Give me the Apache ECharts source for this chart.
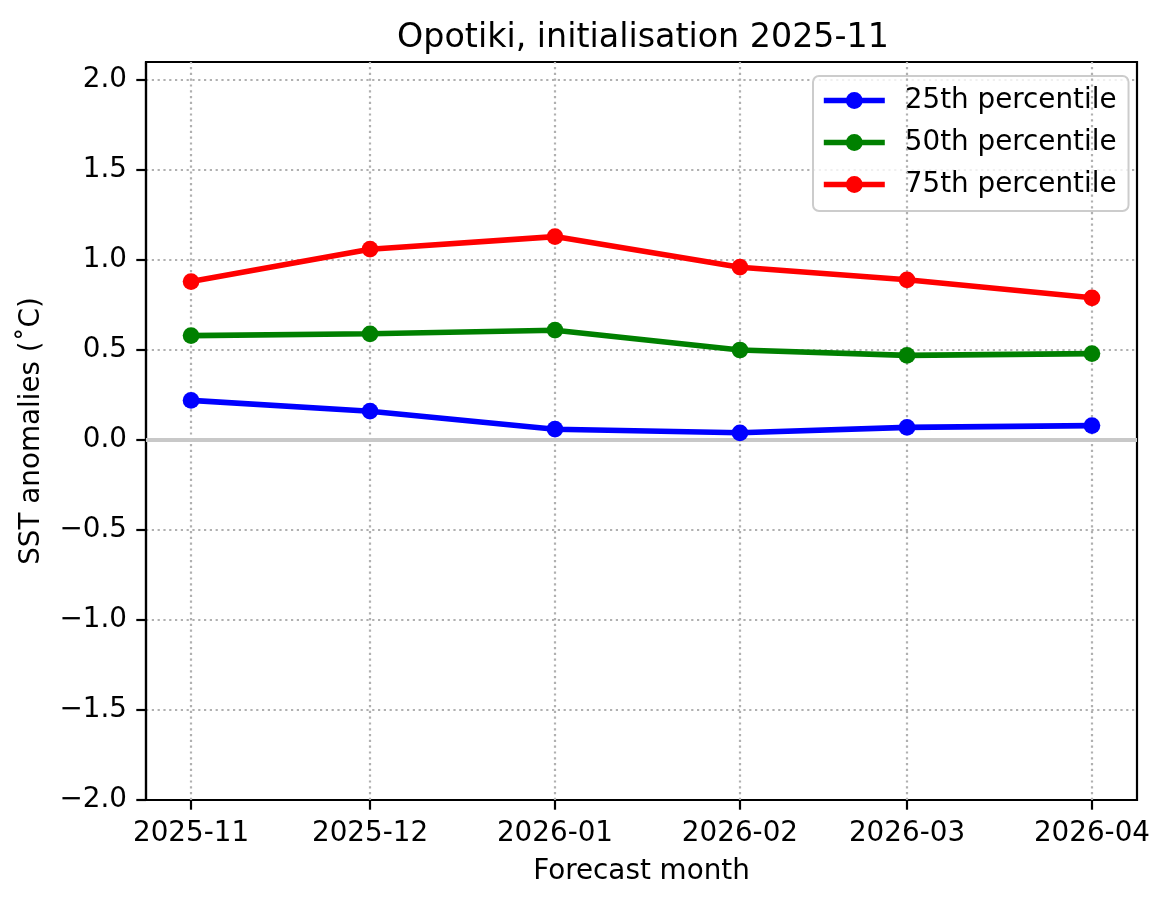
<!DOCTYPE html>
<html>
<head>
<meta charset="utf-8">
<script src="https://cdn.jsdelivr.net/npm/echarts@6/dist/echarts.min.js"></script>
<style>
html,body{margin:0;padding:0;background:#fff;}
#c{width:1171px;height:908px;}
</style>
</head>
<body>
<div id="c"></div>
<script>
// ---- data ----
const months = ['2025-11', '2025-12', '2026-01', '2026-02', '2026-03', '2026-04'];
const p25 = [0.22, 0.16, 0.06, 0.04, 0.07, 0.08];
const p50 = [0.58, 0.59, 0.61, 0.50, 0.47, 0.48];
const p75 = [0.88, 1.06, 1.13, 0.96, 0.89, 0.79];
const seriesNames = ['25th percentile', '50th percentile', '75th percentile'];
const yTicks = [-2.0, -1.5, -1.0, -0.5, 0.0, 0.5, 1.0, 1.5, 2.0];
const titleText = 'Opotiki, initialisation 2025-11';
const xName = 'Forecast month';
const yName = 'SST anomalies (˚C)';

// ---- helpers ----
function toTs(s) { const [y, m] = s.split('-').map(Number); return Date.UTC(y, m - 1, 1); }
const xs = months.map(toTs);
const span = xs[xs.length - 1] - xs[0];
const xMin = xs[0] - 0.05 * span;
const xMax = xs[xs.length - 1] + 0.05 * span;
function pair(vals) { return vals.map((v, i) => [xs[i], v]); }
function fmtX(v) { const d = new Date(v); return d.getUTCFullYear() + '-' + String(d.getUTCMonth() + 1).padStart(2, '0'); }
function fmtY(v) { return (v < 0 ? '\u2212' : '') + Math.abs(v).toFixed(1); }

const FONT = 'DejaVu Sans';
const FS = 27.8;
const LW = 5.6;
const MS = 16.7;
const AXW = 2.2;

function lineSeries(name, vals, color) {
  return {
    name: name, type: 'line', data: pair(vals), z: 5,
    symbol: 'circle', symbolSize: MS, showAllSymbol: true,
    lineStyle: { color: color, width: LW },
    itemStyle: { color: color },
    emphasis: { disabled: true }, animation: false
  };
}

const chart = echarts.init(document.getElementById('c'), null, { renderer: 'canvas' });
chart.setOption({
  animation: false,
  backgroundColor: '#ffffff',
  textStyle: { fontFamily: FONT },
  title: {
    text: titleText, left: 638, top: 17, textAlign: 'center',
    textStyle: { fontFamily: FONT, fontSize: 33.3, fontWeight: 'normal', color: '#000' }
  },
  grid: {
    left: 146, top: 62, right: 34, bottom: 108,
    show: true, borderColor: '#000', borderWidth: AXW, backgroundColor: 'transparent'
  },
  legend: {
    orient: 'vertical', left: 813, top: 76,
    padding: [10, 12, 12, 8],
    itemWidth: 61, itemHeight: 21, itemGap: 13,
    borderColor: '#cccccc', borderWidth: 2, borderRadius: 6,
    backgroundColor: 'rgba(255,255,255,0.8)',
    lineStyle: { width: LW },
    data: seriesNames,
    textStyle: { fontFamily: FONT, fontSize: FS, color: '#000', lineHeight: 29, padding: [0, 0, 0, 15] }
  },
  xAxis: {
    type: 'value', min: xMin, max: xMax, scale: true,
    name: xName, nameLocation: 'middle', nameGap: 58,
    nameTextStyle: { fontFamily: FONT, fontSize: FS, color: '#000' },
    axisLine: { show: true, onZero: false, lineStyle: { color: '#000', width: AXW } },
    axisTick: { show: true, length: 9.7, lineStyle: { color: '#000', width: AXW }, customValues: xs },
    axisLabel: {
      show: true, margin: 20, fontFamily: FONT, fontSize: FS, color: '#000',
      customValues: xs, formatter: fmtX, hideOverlap: false
    },
    splitLine: { show: false }
  },
  yAxis: {
    type: 'value', min: -2, max: 2.1, interval: 0.5,
    name: yName, nameLocation: 'middle', nameGap: 100,
    nameTextStyle: { fontFamily: FONT, fontSize: FS, color: '#000' },
    axisLine: { show: true, onZero: false, lineStyle: { color: '#000', width: AXW } },
    axisTick: { show: true, length: 9.7, lineStyle: { color: '#000', width: AXW }, customValues: yTicks },
    axisLabel: {
      show: true, margin: 19, fontFamily: FONT, fontSize: FS, color: '#000',
      customValues: yTicks, formatter: fmtY
    },
    splitLine: { show: true, lineStyle: { color: '#b0b0b0', width: AXW, type: [2.2, 3.6] } }
  },
  series: [
    {
      name: 'grid', type: 'line', data: [], z: 1, silent: true,
      markLine: {
        silent: true, symbol: 'none', animation: false,
        label: { show: false },
        lineStyle: { color: '#b0b0b0', width: AXW, type: [2.2, 3.6] },
        emphasis: { disabled: true },
        data: xs.map(t => ({ xAxis: t }))
      }
    },
    {
      name: 'zero', type: 'line', data: [], z: 2, silent: true,
      markLine: {
        silent: true, symbol: 'none', animation: false,
        label: { show: false },
        lineStyle: { color: '#c8c8c8', width: 4, type: 'solid' },
        emphasis: { disabled: true },
        data: [{ yAxis: 0 }]
      }
    },
    lineSeries(seriesNames[0], p25, '#0000ff'),
    lineSeries(seriesNames[1], p50, '#008000'),
    lineSeries(seriesNames[2], p75, '#ff0000')
  ]
});
</script>
</body>
</html>
